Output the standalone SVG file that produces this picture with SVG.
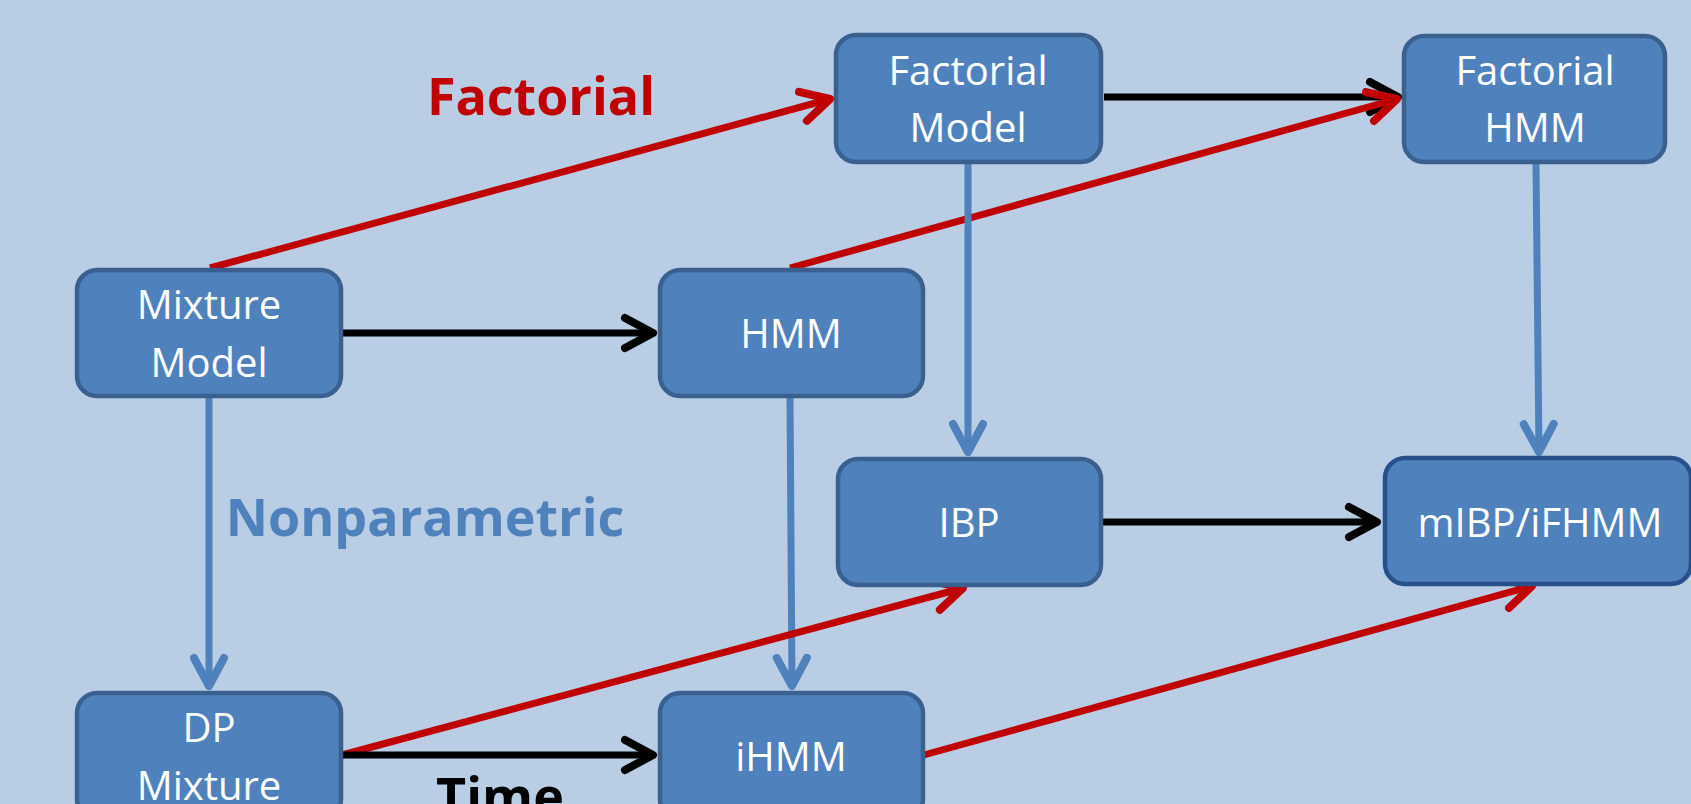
<svg xmlns="http://www.w3.org/2000/svg" width="1691" height="804" viewBox="0 0 1691 804">
  <style>
    .node rect { fill: #4f81bd; stroke: #3a6090; stroke-width: 4.5; }
    .node text { fill: #ffffff; font-family: "Open Sans", "Liberation Sans", sans-serif; font-size: 40px; text-anchor: middle; }
    .edge { fill: none; stroke-width: 7; }
    .red { stroke: #c00000; marker-end: url(#arrowRed); }
    .black { stroke: #000000; marker-end: url(#arrowBlack); }
    .blue { stroke: #4f81bd; marker-end: url(#arrowBlue); }
    .label { font-family: "Open Sans", "Liberation Sans", sans-serif; font-weight: bold; font-size: 52px; text-anchor: middle; }
    .head { fill: none; stroke-width: 8; stroke-linecap: round; stroke-linejoin: round; }
  </style>
  <defs>
    <!-- open chevron heads, drawn in user units so every arrow gets the same size -->
    <marker id="arrowRed" markerUnits="userSpaceOnUse" orient="auto" overflow="visible" refX="0" refY="0">
      <path class="head" d="M -28 -15 L 0 0 L -28 15" stroke="#c00000"/>
    </marker>
    <marker id="arrowBlack" markerUnits="userSpaceOnUse" orient="auto" overflow="visible" refX="0" refY="0">
      <path class="head" d="M -28 -15 L 0 0 L -28 15" stroke="#000000"/>
    </marker>
    <marker id="arrowBlue" markerUnits="userSpaceOnUse" orient="auto" overflow="visible" refX="0" refY="0">
      <path class="head" d="M -28 -15 L 0 0 L -28 15" stroke="#4f81bd"/>
    </marker>
  </defs>

  <rect x="0" y="0" width="1691" height="804" fill="#b9cde5"/>

  <g id="connectors">
    <path class="edge red" d="M 210 268 L 830 99"/>
    <path class="edge black" d="M 1104 97 L 1398 97"/>
    <path class="edge red" d="M 790 268 L 1397 99"/>
    <path class="edge black" d="M 343 333 L 653 333"/>
    <path class="edge blue" d="M 968 164 L 968 452"/>
    <path class="edge blue" d="M 1536 164 L 1539 452"/>
    <path class="edge blue" d="M 209 398 L 209 686"/>
    <path class="edge blue" d="M 790 398 L 792 686"/>
    <path class="edge black" d="M 1103 522 L 1377 522"/>
    <path class="edge red" d="M 342 755 L 963 588"/>
    <path class="edge black" d="M 342 755 L 653 755"/>
    <path class="edge red" d="M 924 755 L 1532 586"/>
  </g>

  <g id="labels">
    <text class="label" x="541" y="115" fill="#c00000">Factorial</text>
    <text class="label" x="425" y="536" fill="#4f81bd">Nonparametric</text>
    <text class="label" x="500" y="815" fill="#000000">Time</text>
  </g>

  <g id="mixture-model" class="node">
    <rect x="77" y="270" width="264" height="126" rx="20"/>
    <text x="209" y="319">Mixture</text>
    <text x="209" y="377">Model</text>
  </g>
  <g id="factorial-model" class="node">
    <rect x="836" y="35" width="265" height="127" rx="20"/>
    <text x="968" y="85">Factorial</text>
    <text x="968" y="142">Model</text>
  </g>
  <g id="hmm" class="node">
    <rect x="660" y="270" width="263" height="126" rx="20"/>
    <text x="791" y="348">HMM</text>
  </g>
  <g id="factorial-hmm" class="node">
    <rect x="1404" y="36" width="261" height="126" rx="20"/>
    <text x="1535" y="85">Factorial</text>
    <text x="1535" y="142">HMM</text>
  </g>
  <g id="ibp" class="node">
    <rect x="838" y="459" width="263" height="126" rx="20"/>
    <text x="969" y="537">IBP</text>
  </g>
  <g id="mibp-ifhmm" class="node">
    <rect x="1385" y="458" width="306" height="126" rx="20" style="stroke:#28508a"/>
    <text x="1540" y="537">mIBP/iFHMM</text>
  </g>
  <g id="dp-mixture" class="node">
    <rect x="77" y="693" width="264" height="126" rx="20"/>
    <text x="209" y="742">DP</text>
    <text x="209" y="800">Mixture</text>
  </g>
  <g id="ihmm" class="node">
    <rect x="660" y="693" width="263" height="126" rx="20"/>
    <text x="791" y="771">iHMM</text>
  </g>
</svg>
